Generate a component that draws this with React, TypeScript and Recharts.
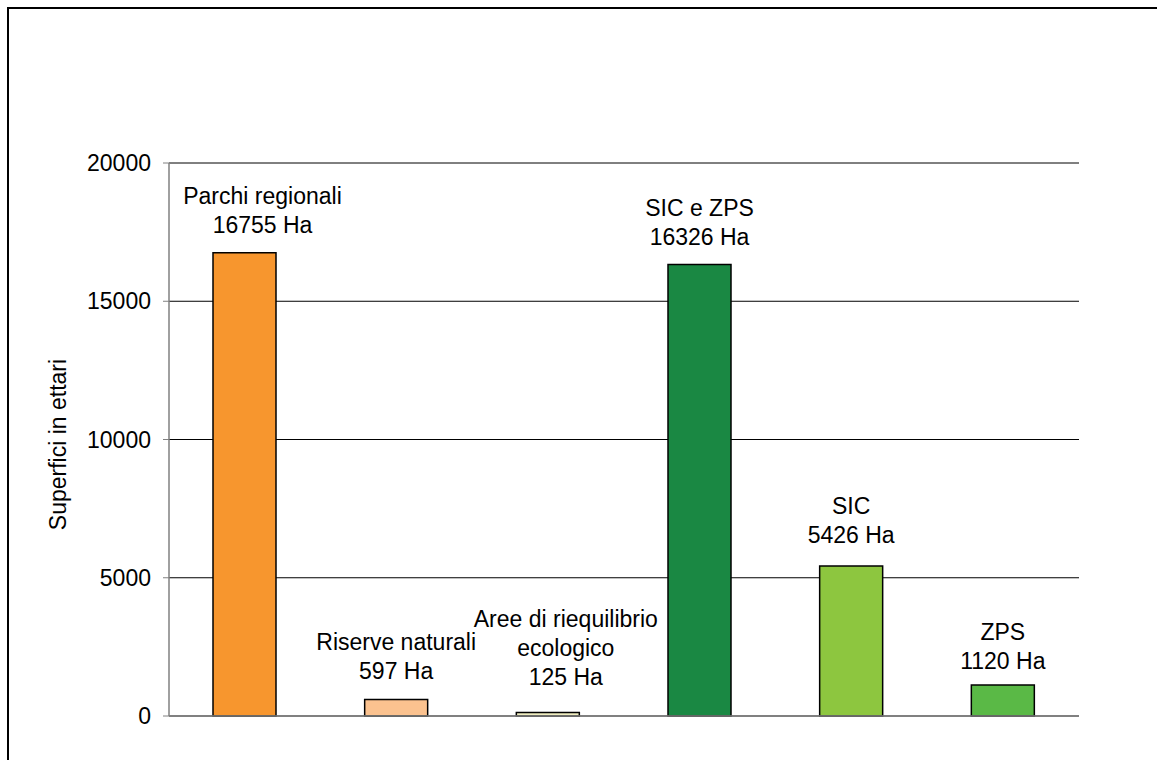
import React from "react";
import { BarChart, Bar, XAxis, YAxis, CartesianGrid, Cell, LabelList } from "recharts";

const categories = ["Parchi regionali", "Riserve naturali", "Aree di riequilibrio ecologico", "SIC e ZPS", "SIC", "ZPS"];
const labelLines = [
  ["Parchi regionali"],
  ["Riserve naturali"],
  ["Aree di riequilibrio", "ecologico"],
  ["SIC e ZPS"],
  ["SIC"],
  ["ZPS"],
];
const values = [16755, 597, 125, 16326, 5426, 1120];
const colors = ["#F7962E", "#FBC28F", "#EFEDBF", "#1A8843", "#8DC63F", "#5AB946"];
const yTicks = [0, 5000, 10000, 15000, 20000];

const data = categories.map((c, i) => ({ name: c, value: values[i] }));

const FONT = "'Liberation Sans', Arial, sans-serif";

// manual label nudges (as placed in the original chart), keyed by category
const labelNudge: Record<string, { dx: number; dy: number }> = {
  "Parchi regionali": { dx: 18, dy: 0 },
  "Aree di riequilibrio ecologico": { dx: 18, dy: -8 },
  "ZPS": { dx: 0, dy: 4 },
  "SIC": { dx: 0, dy: -3 },
};

const BarLabel = (props: any) => {
  const { x, y, width, index, value } = props;
  const lines = [...labelLines[index], `${value} Ha`];
  const nudge = labelNudge[categories[index]] || { dx: 0, dy: 0 };
  const cx = x + width / 2 + nudge.dx;
  const baseY = y - 20 + nudge.dy;
  const lh = 29;
  return (
    <g>
      {lines.map((t, i) => (
        <text
          key={i}
          x={cx}
          y={baseY - (lines.length - 1 - i) * lh}
          textAnchor="middle"
          fontSize={23}
          fontFamily={FONT}
          fill="#000"
        >
          {t}
        </text>
      ))}
    </g>
  );
};

export default function App() {
  return (
    <div style={{ position: "absolute", left: 0, top: 0, width: 1157, height: 760, overflow: "hidden", background: "#fff" }}>
      <div style={{ position: "absolute", left: 7, top: 7, width: 1300, height: 900, border: "2px solid #000" }} />
      <div style={{ position: "absolute", left: 0, top: 0 }}>
        <BarChart
          width={1157}
          height={760}
          data={data}
          margin={{ top: 163, right: 78, bottom: 43, left: 69 }}
        >
          <CartesianGrid vertical={false} stroke="#000" strokeWidth={1} />
          <XAxis
            dataKey="name"
            tick={false}
            tickLine={false}
            axisLine={{ stroke: "#808080", strokeWidth: 1.5 }}
            height={1}
          />
          <YAxis
            width={100}
            domain={[0, 20000]}
            ticks={yTicks}
            interval={0}
            tickSize={6}
            tickMargin={12}
            axisLine={{ stroke: "#808080", strokeWidth: 1.5 }}
            tickLine={{ stroke: "#808080" }}
            tick={{ fontSize: 23, fontFamily: FONT, fill: "#000" }}
            label={{
              value: "Superfici in ettari",
              angle: -90,
              position: "insideLeft",
              dx: -16,
              dy: 5,
              style: { fontSize: 23, fontFamily: FONT, fill: "#000", textAnchor: "middle" },
            }}
          />
          <Bar dataKey="value" barSize={63} stroke="#000" strokeWidth={1.5} isAnimationActive={false}>
            {data.map((d, i) => (
              <Cell key={i} fill={colors[i]} />
            ))}
            <LabelList dataKey="value" content={<BarLabel />} />
          </Bar>
        </BarChart>
      </div>
    </div>
  );
}
